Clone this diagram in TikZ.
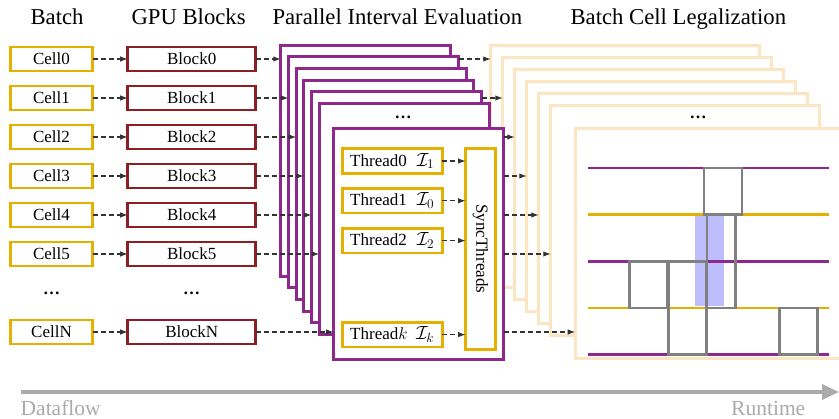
\RequirePackage{fix-cm}
\documentclass[tikz,border=0pt]{standalone}
\usepackage{fontspec}
\setmainfont{Liberation Serif}
\usepackage{amsmath}
\usepackage{xcolor}
\usepackage{tikz}
\usetikzlibrary{arrows.meta, positioning}

\definecolor{cellyellow}{RGB}{230,176,0}
\definecolor{blockred}{RGB}{140,30,36}
\definecolor{evalpurple}{RGB}{142,40,140}
\definecolor{legalcream}{RGB}{251,229,194}
\definecolor{sitegray}{RGB}{128,128,128}
\definecolor{axisgray}{RGB}{170,170,170}
\definecolor{shadeblue}{RGB}{190,190,255}

\newcommand{\ivl}[1]{{\fontsize{19}{22}\selectfont$\mathcal{I}_{#1}$}}

\begin{document}
\begin{tikzpicture}[
    x=1pt, y=-1pt,
    node distance=15.3pt and 35pt,
    cellbox/.style={draw=cellyellow, line width=2.6pt, fill=white, minimum width=82.4pt,
                    minimum height=23.7pt, inner sep=0pt, outer sep=0pt,
                    font=\fontsize{17}{20}\selectfont},
    blockbox/.style={cellbox, draw=blockred, minimum width=128pt},
    threadbox/.style={cellbox, minimum width=100pt, minimum height=24.5pt,
                      inner xsep=8pt, text width=84pt},
    dotsgap/.style={minimum height=23.7pt, inner sep=0pt, outer sep=0pt,
                    font=\fontsize{17}{20}\selectfont\bfseries},
    pframe/.style={draw=evalpurple, line width=2.8pt, fill=white, minimum width=170pt,
                   minimum height=231pt, anchor=north west, inner sep=0pt, outer sep=0pt},
    lframe/.style={pframe, draw=legalcream, minimum width=269pt, minimum height=230pt},
    coltitle/.style={anchor=base west, font=\fontsize{22.7}{26}\selectfont},
    flow/.style={-{Latex[length=7.5pt,width=5.5pt]}, black!80, line width=1.1pt,
                 dash pattern=on 5pt off 3pt},
    lane/.style={line width=2.6pt},
    site/.style={draw=sitegray, line width=2.8pt},
    timeaxis/.style={-{Triangle[length=17pt,width=15pt]}, axisgray, line width=3.3pt},
    axislabel/.style={text=axisgray, inner sep=0pt, font=\fontsize{21.5}{24}\selectfont},
]
    \useasboundingbox (0,0) rectangle (839,419);

    % column titles
    \node[coltitle] (tbatch) at (27,25) {Batch};
    \node[coltitle] (tgpu) at (128,25) {GPU Blocks};
    \node[coltitle] (teval) at (269,25) {Parallel Interval Evaluation};
    \node[coltitle] (tlegal) at (567,25) {Batch Cell Legalization};

    % batch of cells
    \node[cellbox] (cell0) at (51.5,59) {Cell0};
    \node[cellbox, below=of cell0] (cell1) {Cell1};
    \node[cellbox, below=of cell1] (cell2) {Cell2};
    \node[cellbox, below=of cell2] (cell3) {Cell3};
    \node[cellbox, below=of cell3] (cell4) {Cell4};
    \node[cellbox, below=of cell4] (cell5) {Cell5};
    \node[dotsgap, below=of cell5] (celldots) {\dots};
    \node[cellbox, below=of celldots] (cellN) {CellN};

    % gpu blocks
    \node[blockbox, right=of cell0] (block0) {Block0};
    \node[blockbox, right=of cell1] (block1) {Block1};
    \node[blockbox, right=of cell2] (block2) {Block2};
    \node[blockbox, right=of cell3] (block3) {Block3};
    \node[blockbox, right=of cell4] (block4) {Block4};
    \node[blockbox, right=of cell5] (block5) {Block5};
    \node[dotsgap] (blockdots) at (celldots -| block5) {\dots};
    \node[blockbox, right=of cellN] (blockN) {BlockN};

    % legalization stack (behind)
    \node[lframe] (legal0) at (490.8,45.5) {};
    \node[lframe] (legal1) at (502.8,57.5) {};
    \node[lframe] (legal2) at (514.8,69.5) {};
    \node[lframe] (legal3) at (526.8,81.5) {};
    \node[lframe] (legal4) at (538.8,93.5) {};
    \node[lframe] (legal5) at (550.8,105.5) {};
    \node[dotsgap] (legaldots) at (698,117) {\dots};
    \node[lframe] (legalF) at (575.2,128.3) {};

    % evaluation stack
    \node[pframe] (eval0) at (280.8,45.3) {};
    \node[pframe] (eval1) at (288.5,56.9) {};
    \node[pframe] (eval2) at (296.2,68.6) {};
    \node[pframe] (eval3) at (303.8,80.2) {};
    \node[pframe] (eval4) at (311.5,91.9) {};
    \node[pframe] (eval5) at (319.2,103.5) {};
    \node[dotsgap] (evaldots) at (403,117) {\dots};
    \node[pframe] (evalF) at (333.7,128.7) {};

    % threads of one block
    \node[threadbox] (thr0) at (392.2,161) {Thread0\hfill\ivl{1}};
    \node[threadbox, below=of thr0] (thr1) {Thread1\hfill\ivl{0}};
    \node[threadbox, below=of thr1] (thr2) {Thread2\hfill\ivl{2}};
    \node[threadbox, below=69.5pt of thr2] (thrk) {Thread$k$\hfill\ivl{k}};
    \node[cellbox, minimum width=201pt, minimum height=29.8pt, rotate=-90] (sync) at (480.5,248.9) {SyncThreads};

    % placement rows
    \fill[shadeblue] (695,215) rectangle (724,305.7);
    \draw[lane, evalpurple] (588,168) -- (829,168);
    \draw[lane, cellyellow] (588,214.7) -- (829,214.7);
    \draw[lane, evalpurple] (588,261.3) -- (829,261.3);
    \draw[lane, cellyellow] (588,308) -- (829,308);
    \draw[lane, evalpurple] (588,354.7) -- (829,354.7);
    \draw[site] (704,168) rectangle (742,214.7);
    \draw[site] (707,214.7) rectangle (735.7,308);
    \draw[site] (629.7,261.3) rectangle (667.7,308);
    \draw[site] (668.3,261.3) rectangle (706.7,354.7);
    \draw[site] (779.3,308) rectangle (817.7,354.7);

    % dataflow
    \draw[flow] (cell0) -- (block0);
    \draw[flow] (cell1) -- (block1);
    \draw[flow] (cell2) -- (block2);
    \draw[flow] (cell3) -- (block3);
    \draw[flow] (cell4) -- (block4);
    \draw[flow] (cell5) -- (block5);
    \draw[flow] (cellN) -- (blockN);

    \draw[flow] (block0) -- (block0 -| eval0.west);
    \draw[flow] (block1) -- (block1 -| eval1.west);
    \draw[flow] (block2) -- (block2 -| eval2.west);
    \draw[flow] (block3) -- (block3 -| eval3.west);
    \draw[flow] (block4) -- (block4 -| eval4.west);
    \draw[flow] (block5) -- (block5 -| eval5.west);
    \draw[flow] (blockN) -- (blockN -| evalF.west);

    \draw[flow] (thr0) -- (thr0 -| sync.south);
    \draw[flow] (thr1) -- (thr1 -| sync.south);
    \draw[flow] (thr2) -- (thr2 -| sync.south);
    \draw[flow] (thrk) -- (thrk -| sync.south);

    \draw[flow] (block0 -| eval1.east) -- (block0 -| legal0.west);
    \draw[flow] (block1 -| eval4.east) -- (block1 -| legal1.west);
    \draw[flow] (block2 -| evalF.east) -- (block2 -| legal2.west);
    \draw[flow] (block3 -| evalF.east) -- (block3 -| legal3.west);
    \draw[flow] (block4 -| evalF.east) -- (block4 -| legal4.west);
    \draw[flow] (block5 -| evalF.east) -- (block5 -| legal5.west);
    \draw[flow] (blockN -| evalF.east) -- (blockN -| legalF.west);

    % time axis
    \coordinate (flowstart) at (20.5,392);
    \coordinate (flowend) at (839,392);
    \draw[timeaxis] (flowstart) -- (flowend);
    \node[axislabel, anchor=base west] (dataflow) at (20.5,416) {Dataflow};
    \node[axislabel, anchor=base west] (runtime) at (731,416) {Runtime};
\end{tikzpicture}
\end{document}
